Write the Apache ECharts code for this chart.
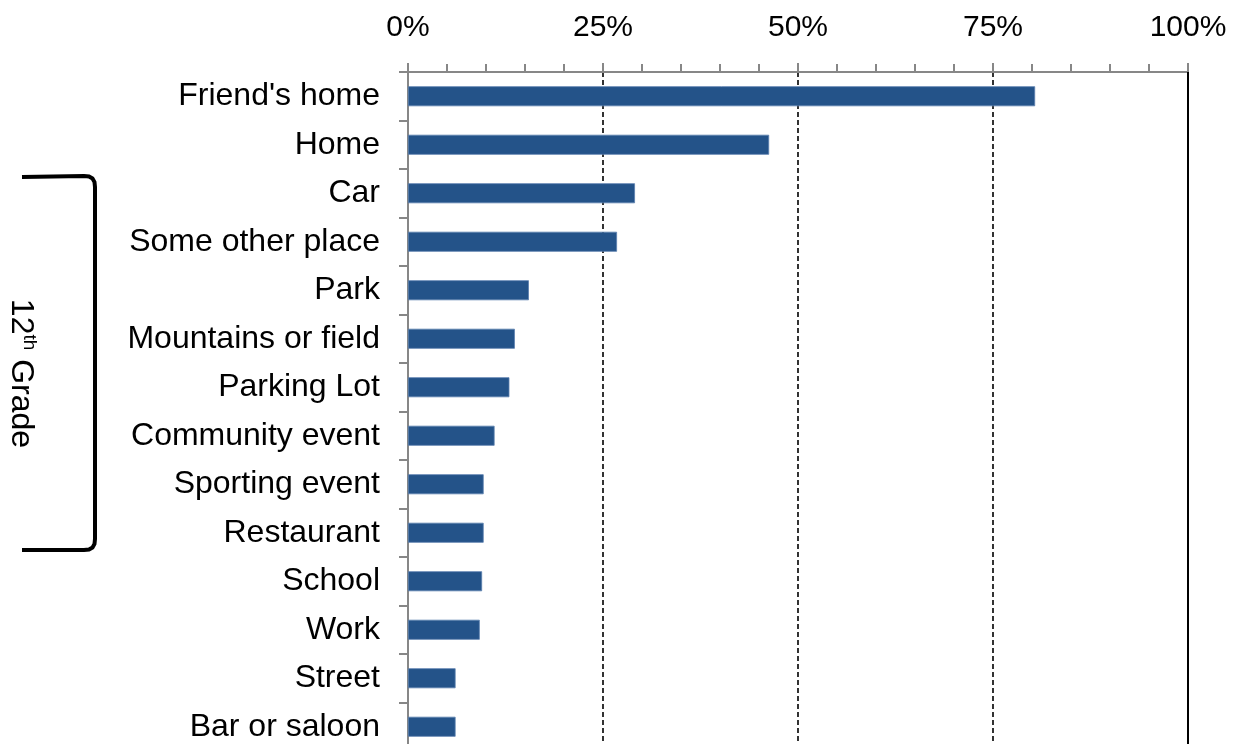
<!DOCTYPE html>
<html>
<head>
<meta charset="utf-8">
<script src="https://cdn.jsdelivr.net/npm/echarts@6/dist/echarts.min.js"></script>
<style>
html,body{margin:0;padding:0;background:#fff;overflow:hidden;}
#chart{width:1243px;height:751px;}
</style>
</head>
<body>
<div id="chart"></div>
<script>
var categories = ["Friend's home", "Home", "Car", "Some other place", "Park", "Mountains or field", "Parking Lot", "Community event", "Sporting event", "Restaurant", "School", "Work", "Street", "Bar or saloon"];
var values = [80.4, 46.3, 29.1, 26.8, 15.5, 13.7, 13.0, 11.1, 9.7, 9.7, 9.5, 9.2, 6.1, 6.1];
var dashedGridValues = [25, 50, 75];
var solidGridValues = [100];
var groupLabel = "12th Grade";

var FONT = "'Liberation Sans', Arial, sans-serif";
var chart = echarts.init(document.getElementById('chart'), null, {renderer: 'canvas'});

var option = {
  animation: false,
  backgroundColor: '#fff',
  grid: {left: 408, right: 55, top: 72, bottom: 0, containLabel: false},
  xAxis: {
    type: 'value',
    position: 'top',
    min: 0, max: 100, interval: 25,
    axisLine: {show: true, lineStyle: {color: '#878787', width: 2}},
    axisTick: {show: true, length: 9, lineStyle: {color: '#878787', width: 2}},
    minorTick: {show: true, splitNumber: 5, length: 8, lineStyle: {color: '#878787', width: 2}},
    axisLabel: {
      margin: 29, color: '#000', fontSize: 30, fontFamily: FONT,
      formatter: function (v) { return v + '%'; }
    },
    splitLine: {show: true, lineStyle: {color: ['rgba(0,0,0,0)', '#000', '#000', '#000', 'rgba(0,0,0,0)'], width: 1.6, type: [5, 3]}}
  },
  yAxis: {
    type: 'category',
    data: categories,
    inverse: true,
    boundaryGap: true,
    axisLine: {show: true, lineStyle: {color: '#878787', width: 2}},
    axisTick: {show: true, length: 9, alignWithLabel: false, lineStyle: {color: '#878787', width: 2}},
    axisLabel: {margin: 28, color: '#000', fontSize: 32, fontFamily: FONT, padding: [5, 0, 0, 0]},
    splitLine: {show: false}
  },
  series: [{
    type: 'bar',
    data: values,
    barWidth: 20,
    itemStyle: {color: '#245389', borderColor: '#5a7fae', borderWidth: 0.8},
    markLine: {
      silent: true, symbol: 'none', label: {show: false},
      lineStyle: {color: '#000', width: 2, type: 'solid'},
      data: solidGridValues.map(function (v) { return {xAxis: v}; })
    }
  }],
  graphic: [
    {
      type: 'polyline',
      shape: {points: [[22,177],[84,176],[89,176.5],[92.5,178.5],[94.5,182],[95,187],[95,539],[94.5,544],[92.5,547.5],[89,549.5],[84,550],[22,550]]},
      style: {fill: null, stroke: '#000', lineWidth: 4}
    },
    {
      type: 'text',
      x: 20.5, y: 373.5,
      rotation: -Math.PI / 2,
      style: {
        text: '{n|12}{s|th}{n| Grade}',
        align: 'center', verticalAlign: 'middle',
        fill: '#000',
        rich: {
          n: {fontSize: 32, fontFamily: FONT, fill: '#000', lineHeight: 36},
          s: {fontSize: 19, fontFamily: FONT, fill: '#000', verticalAlign: 'top', lineHeight: 36}
        }
      }
    }
  ]
};
chart.setOption(option);
</script>
</body>
</html>
